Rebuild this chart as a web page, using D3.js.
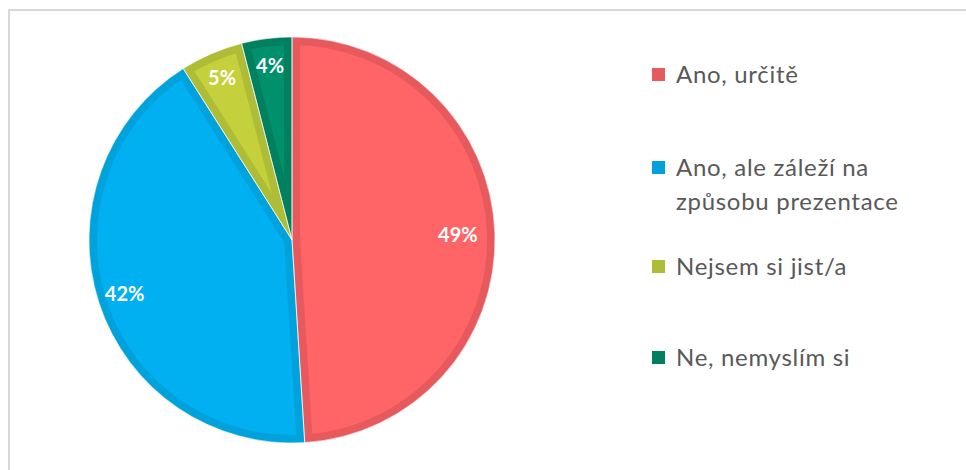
<!DOCTYPE html>
<html>
<head>
<meta charset="utf-8">
<script src="https://cdn.jsdelivr.net/npm/d3@7"></script>
<style>
  body { margin: 0; background: #fff; }
  text { font-family: Lato, "Open Sans", sans-serif; }
</style>
</head>
<body>
<div id="graf"></div>
<script>
// Datos del grafico
kategorie = ['Ano, určitě', 'Ano, ale záleží na|způsobu prezentace', 'Nejsem si jist/a', 'Ne, nemyslím si']
hodnoty   = [49, 42, 5, 4]
popisky   = ['49%', '42%', '5%', '4%']
barvy     = ['#FF6466', '#00B0F0', '#C4D03C', '#00906C']
okraje    = ['#E65A5E', '#00A2DB', '#AFBC36', '#00805E']

ancho_total = 966
alto_total  = 470

svg = d3.select('#graf').append('svg')
        .attr('width', ancho_total)
        .attr('height', alto_total)

// marco del area del grafico
svg.append('rect')
   .attr('x', 9).attr('y', 10)
   .attr('width', 980).attr('height', 480)
   .attr('fill', 'none')
   .attr('stroke', '#d9d9d9')
   .attr('stroke-width', 2)

cx = 292
cy = 240
radio = 203

pie = d3.pie().sort(null).value(d => d)
arc = d3.arc().innerRadius(0).outerRadius(radio)
arcs = pie(hodnoty)

g = svg.append('g').attr('transform', `translate(${cx}, ${cy})`)

defs = svg.append('defs')
arcs.forEach((d, i) => {
  defs.append('clipPath').attr('id', 'clip' + i)
      .append('path').attr('d', arc(d))
})

// rebanadas con borde interior mas oscuro
g.selectAll('path.slice').data(arcs)
 .enter().append('path')
 .attr('class', 'slice')
 .attr('d', arc)
 .attr('fill', (d, i) => barvy[i])
 .attr('stroke', (d, i) => okraje[i])
 .attr('stroke-width', 16)
 .attr('stroke-linejoin', 'miter')
 .attr('clip-path', (d, i) => `url(#clip${i})`)

g.selectAll('path.sep').data(arcs)
 .enter().append('path')
 .attr('class', 'sep')
 .attr('d', arc)
 .attr('fill', 'none')
 .attr('stroke', '#ffffff')
 .attr('stroke-opacity', 0.6)
 .attr('stroke-width', 1)

// etiquetas de porcentaje
radiosEtiqueta = [166, 176, 176, 175]
g.selectAll('text.label').data(arcs)
 .enter().append('text')
 .attr('class', 'label')
 .attr('transform', (d, i) => {
   let c = d3.arc().innerRadius(radiosEtiqueta[i]).outerRadius(radiosEtiqueta[i]).centroid(d)
   return `translate(${c[0]}, ${c[1]})`
 })
 .attr('text-anchor', 'middle')
 .attr('dy', '0.35em')
 .style('font-size', '20px')
 .style('font-weight', 'bold')
 .style('fill', '#ffffff')
 .text((d, i) => popisky[i])

// leyenda
leyendaY = [75, 168, 267, 358]
leyenda = svg.append('g')
leyenda.selectAll('rect').data(kategorie)
  .enter().append('rect')
  .attr('x', 652)
  .attr('y', (d, i) => leyendaY[i] - 7)
  .attr('width', 13).attr('height', 13)
  .attr('fill', (d, i) => okraje[i])

leyenda.selectAll('text').data(kategorie)
  .enter().append('text')
  .attr('x', 676)
  .attr('y', (d, i) => leyendaY[i])
  .style('font-size', '24px')
  .style('letter-spacing', '0.7px')
  .style('fill', '#595959')
  .each(function(d) {
    let lineas = d.split('|')
    let t = d3.select(this)
    lineas.forEach((l, j) => {
      t.append('tspan')
       .attr('x', 676)
       .attr('dy', j === 0 ? '0.35em' : '1.4em')
       .text(l)
    })
  })
</script>
</body>
</html>
